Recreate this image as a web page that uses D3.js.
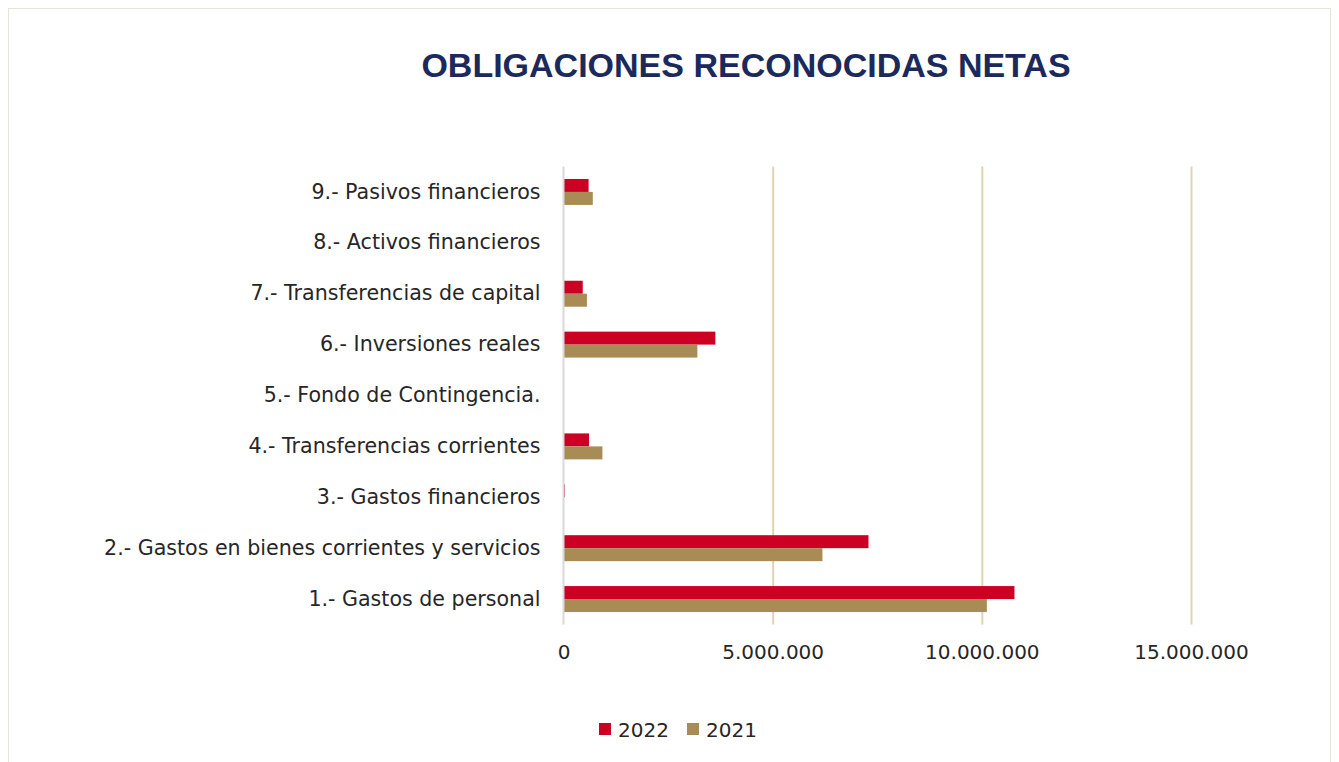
<!DOCTYPE html>
<html>
<head>
<meta charset="utf-8">
<script src="https://cdn.jsdelivr.net/npm/d3@7"></script>
<style>
  html, body { margin: 0; padding: 0; background: #fff; }
  svg { display: block; }
</style>
</head>
<body>
<svg id="chart" width="1339" height="762"></svg>
<script>
const title = "OBLIGACIONES RECONOCIDAS NETAS";
const categories = [
  "1.- Gastos de personal",
  "2.- Gastos en bienes corrientes y servicios",
  "3.- Gastos financieros",
  "4.- Transferencias corrientes",
  "5.- Fondo de Contingencia.",
  "6.- Inversiones reales",
  "7.- Transferencias de capital",
  "8.- Activos financieros",
  "9.- Pasivos financieros"
];
const seriesNames = ["2022", "2021"];
const values2022 = [10780000, 7290000, 30000, 610000, 0, 3630000, 460000, 0, 600000];
const values2021 = [10120000, 6190000, 0, 930000, 0, 3200000, 560000, 0, 700000];
const tickValues = [0, 5000000, 10000000, 15000000];
const tickLabels = ["0", "5.000.000", "10.000.000", "15.000.000"];
const colors = ["#CC0022", "#A88B55"];

const svg = d3.select("#chart");
const font = "'DejaVu Sans', sans-serif";
const titleFont = "'Liberation Sans', Arial, sans-serif";

// frame
svg.append("rect").attr("x", 8.5).attr("y", 8.5).attr("width", 1322).attr("height", 770)
  .attr("fill", "#fff").attr("stroke", "#E9E4D8").attr("stroke-width", 1);

const plot = { left: 563.5, right: 1191, top: 166.5, bottom: 624.5 };
const x = d3.scaleLinear().domain([0, 15000000]).range([plot.left, plot.right]);
const y = d3.scaleBand().domain(categories.slice().reverse()).range([plot.top, plot.bottom]).paddingInner(0.49).paddingOuter(0.245);
const sub = d3.scaleBand().domain(seriesNames).range([0, y.bandwidth()]);

// title
svg.append("text").attr("x", 746).attr("y", 77).attr("text-anchor", "middle")
  .attr("font-family", titleFont).attr("font-weight", "bold").attr("font-size", 34)
  .attr("fill", "#1B2A5B").text(title);

// gridlines
const grid = svg.append("g").attr("transform", `translate(0,${plot.top})`)
  .call(d3.axisBottom(x).tickValues(tickValues.slice(1)).tickSize(plot.bottom - plot.top).tickFormat(""));
grid.select(".domain").remove();
grid.selectAll("line").attr("stroke", "#DDD3B8").attr("stroke-width", 2);

// bars
const data = categories.map((c, i) => ({ cat: c, vals: [values2022[i], values2021[i]] }));
const groups = svg.append("g").selectAll("g").data(data).join("g")
  .attr("transform", d => `translate(0,${y(d.cat)})`);
groups.selectAll("rect").data(d => d.vals.map((v, j) => ({ v, s: seriesNames[j], c: colors[j] })))
  .join("rect")
  .attr("x", x(0))
  .attr("y", d => sub(d.s))
  .attr("height", sub.bandwidth())
  .attr("width", d => Math.max(0, x(d.v) - x(0)))
  .attr("fill", d => d.c);

// zero axis line
svg.append("line").attr("x1", x(0)).attr("x2", x(0)).attr("y1", plot.top).attr("y2", plot.bottom)
  .attr("stroke", "#D9D9D9").attr("stroke-width", 2);

// x axis labels
const xa = svg.append("g").attr("transform", `translate(0,${plot.bottom})`)
  .call(d3.axisBottom(x).tickValues(tickValues).tickSize(0).tickPadding(20)
    .tickFormat((d, i) => tickLabels[i]));
xa.select(".domain").remove();
xa.selectAll("text").attr("font-family", font).attr("font-size", 20).attr("fill", "#262626");

// y axis labels
const ya = svg.append("g").attr("transform", `translate(${plot.left - 23},0)`)
  .call(d3.axisLeft(y).tickSize(0).tickPadding(0));
ya.select(".domain").remove();
ya.selectAll("text").attr("font-family", font).attr("font-size", 20.6).attr("fill", "#262626");

// legend
const legend = svg.append("g");
const legX = [599, 687];
seriesNames.forEach((s, i) => {
  legend.append("rect").attr("x", legX[i]).attr("y", 723).attr("width", 12).attr("height", 12).attr("fill", colors[i]);
  legend.append("text").attr("x", legX[i] + 19).attr("y", 736.5).attr("font-family", font)
    .attr("font-size", 20).attr("fill", "#262626").text(s);
});
</script>
</body>
</html>
